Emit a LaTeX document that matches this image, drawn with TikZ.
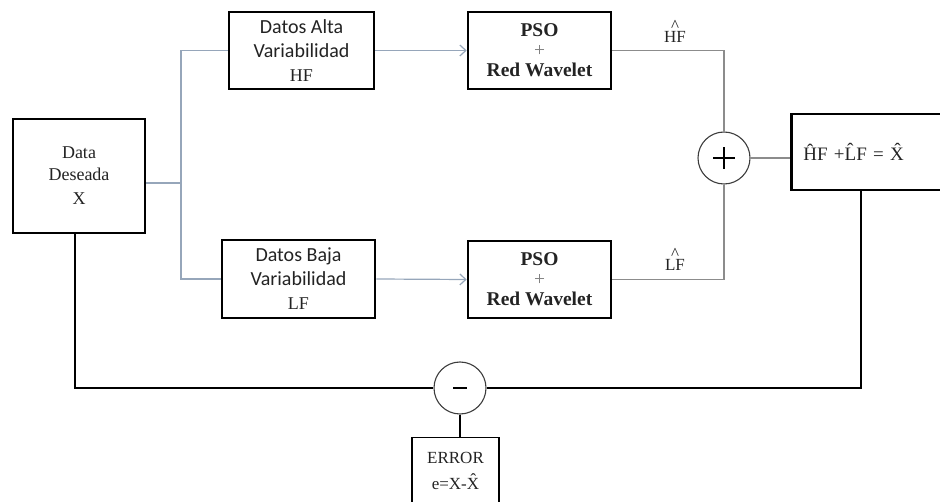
\documentclass[tikz,border=0pt]{standalone}
\usepackage{fontspec}
\setmainfont{Liberation Serif}
\newfontfamily\calfont{Carlito}
\usetikzlibrary{arrows.meta}
\definecolor{bluegray}{RGB}{150,166,186}
\definecolor{lgray}{RGB}{140,140,140}
\definecolor{dgray}{RGB}{60,60,60}
\definecolor{txt}{RGB}{35,35,35}
\tikzset{
  blk/.style={draw=black, line width=2.6pt, rectangle, inner sep=0pt, align=center, text=txt},
  conn/.style={draw=bluegray, line width=1.2pt},
  gconn/.style={draw=lgray, line width=1.2pt},
  bconn/.style={draw=black, line width=1.4pt},
  arr/.style={conn, -{Straight Barb[length=6pt,width=11pt,line width=1.2pt]}},
  sumc/.style={draw=dgray, line width=1.1pt, circle, minimum size=52pt, inner sep=0pt},
  lbl/.style={inner sep=0pt, align=center, text=txt, font=\fontsize{17}{15}\selectfont}
}
\begin{document}
\begin{tikzpicture}[x=1pt,y=-1pt]
\useasboundingbox (0,0) rectangle (940,502);
% boxes
\node[blk, minimum width=132pt, minimum height=114pt, font=\fontsize{18}{22}\selectfont] (data) at (79,176) {Data\\Deseada\\[2pt]X};
\node[blk, minimum width=145pt, minimum height=77pt, font=\fontsize{20}{24}\selectfont] (hf) at (301.5,50.5) {{\calfont Datos Alta}\\{\calfont Variabilidad}\\{\fontsize{18}{20}\selectfont HF}};
\node[blk, minimum width=153pt, minimum height=78pt, font=\fontsize{20}{24}\selectfont] (lf) at (298.5,279) {{\calfont Datos Baja}\\{\calfont Variabilidad}\\{\fontsize{18}{20}\selectfont LF}};
\node[blk, minimum width=143pt, minimum height=77pt, font=\fontsize{19.5}{20}\bfseries\selectfont] (pso1) at (539.5,50.5) {PSO\\{\mdseries\color{gray}+}\\Red Wavelet};
\node[blk, minimum width=143pt, minimum height=77pt, font=\fontsize{19.5}{20}\bfseries\selectfont] (pso2) at (539.5,279.5) {PSO\\{\mdseries\color{gray}+}\\Red Wavelet};
\node[blk, minimum width=150pt, minimum height=76pt, anchor=west, text width=140pt, align=left, font=\fontsize{19}{20}\selectfont] (res) at (790,152) {\hspace*{7pt}\^{H}F +\^{L}F = \^{X}};
\node[sumc] (plus) at (724,158) {};
\node[sumc] (minus) at (460,388) {};
\node[draw=black, line width=1.1pt, rectangle, minimum width=87pt, minimum height=66pt, anchor=north, inner sep=0pt, align=center, text=txt, font=\fontsize{17}{26}\selectfont] (err) at (455.5,437) {ERROR\\e=X-\^{X}};
% signs
\draw[line width=1.1pt] ([xshift=-11pt]plus.center) -- ([xshift=11pt]plus.center)
                        ([yshift=-11pt]plus.center) -- ([yshift=11pt]plus.center);
\draw[line width=1.6pt] ([xshift=-7pt]minus.center) -- ([xshift=7pt]minus.center);
% connectors
\coordinate (j) at (181,183);
\draw[conn] (data.east |- j) -- (j);
\draw[conn] (hf.west) -| (j) |- (lf.west);
\draw[arr] (hf.east) -- (pso1.west);
\draw[arr] (lf.east) -- (pso2.west);
\draw[gconn] (pso1.east) -| (plus.north);
\draw[gconn] (pso2.east) -| (plus.south);
\draw[gconn] (plus.east) -- (res.west |- plus.east);
\coordinate (bl) at (75,388);
\coordinate (br) at (861,388);
\draw[bconn] (data.south -| bl) -- (bl) -- (minus.west);
\draw[bconn] (res.south -| br) -- (br) -- (minus.east);
\draw[bconn] (minus.south) -- (minus.south |- err.north);
% labels
\node[lbl] (lhf) at (675,31) {\^{}\\[-4pt]HF};
\node[lbl] (llf) at (675,259) {\^{}\\[-4pt]LF};
\end{tikzpicture}
\end{document}
